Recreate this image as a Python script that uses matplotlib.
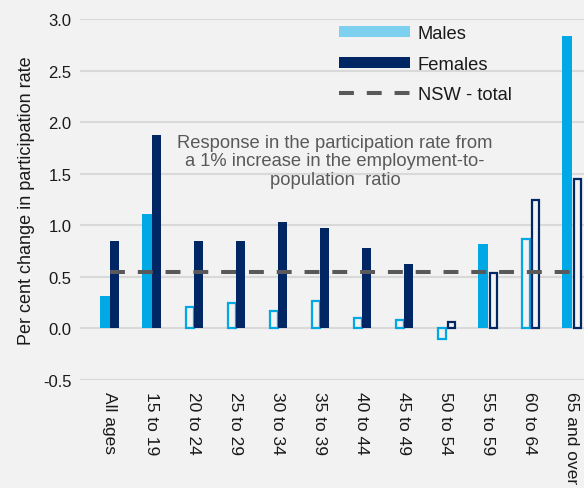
import matplotlib
matplotlib.use("Agg")
import matplotlib.pyplot as plt
import numpy as np
from matplotlib.patches import Patch
from matplotlib.lines import Line2D

plt.rcParams['font.family'] = ['Liberation Sans', 'DejaVu Sans']

categories = ["All ages", "15 to 19", "20 to 24", "25 to 29", "30 to 34", "35 to 39",
              "40 to 44", "45 to 49", "50 to 54", "55 to 59", "60 to 64", "65 and over"]
males = [0.31, 1.11, 0.21, 0.25, 0.17, 0.27, 0.10, 0.08, -0.10, 0.82, 0.87, 2.84]
females = [0.85, 1.88, 0.85, 0.85, 1.03, 0.97, 0.78, 0.62, 0.06, 0.54, 1.25, 1.45]
# significance: True = filled bar, False = hollow bar
males_sig = [True, True, False, False, False, False, False, False, False, True, False, True]
females_sig = [True, True, True, True, True, True, True, True, False, False, False, False]
nsw_total = 0.55

male_color = "#00a9e6"
female_color = "#002664"
bg = "#f2f2f2"
dash = (0, (3.7, 3.2))

fig = plt.figure(figsize=(5.84, 4.89), dpi=100, facecolor=bg)
ax = fig.add_axes([80/584, 108/489, 1 - 80/584, (381-20)/489])
ax.set_facecolor(bg)

x = np.arange(len(categories))
w = 0.225
for i in range(len(categories)):
    if males_sig[i]:
        ax.bar(x[i] - w/2, males[i], w, color=male_color, zorder=3)
    else:
        ax.bar(x[i] - w/2 + 0.02, males[i], w - 0.05, facecolor=bg, edgecolor=male_color,
               linewidth=1.6, zorder=3)
    if females_sig[i]:
        ax.bar(x[i] + w/2, females[i], w, color=female_color, zorder=3)
    else:
        ax.bar(x[i] + w/2 + 0.02, females[i], w - 0.05, facecolor=bg, edgecolor=female_color,
               linewidth=1.6, zorder=3)

ax.plot(x, [nsw_total]*len(x), color="#595959", lw=2.9, linestyle=dash,
        zorder=4, solid_capstyle='butt')

ax.set_ylim(-0.5, 3.0)
ax.set_xlim(-0.71, 11.29)
ax.set_yticks(np.arange(-0.5, 3.01, 0.5))
ax.set_yticklabels([f"{v:.1f}" for v in np.arange(-0.5, 3.01, 0.5)], fontsize=12, color="#1a1a1a")
ax.set_xticks(x)
ax.set_xticklabels(categories, rotation=270, fontsize=12.5, va='top', ha='center', color="#1a1a1a")
ax.tick_params(length=0, pad=6)
ax.tick_params(axis='x', pad=8)
ax.grid(axis='y', color="#d9d9d9", lw=1.5, zorder=0)
for s in ax.spines.values():
    s.set_visible(False)
ax.set_ylabel("Per cent change in participation rate", fontsize=13, labelpad=6, color="#1a1a1a")

ax.text(335/584, 1 - 162/489,
        "Response in the participation rate from\na 1% increase in the employment-to-\npopulation  ratio",
        transform=fig.transFigure, ha='center', va='center', fontsize=13.2, color="#595959",
        linespacing=1.08, zorder=5)

handles = [Patch(facecolor="#7dd0ee", edgecolor='none'),
           Patch(facecolor=female_color, edgecolor='none'),
           Line2D([0], [0], color="#595959", lw=2.9, linestyle=dash)]
leg = ax.legend(handles, ["Males", "Females", "NSW - total"], loc='upper left',
                bbox_to_anchor=(332/584, 1 - 19/489), bbox_transform=fig.transFigure,
                frameon=False, fontsize=13.2, handlelength=3.85, handleheight=0.55,
                labelspacing=0.72, handletextpad=0.42, borderaxespad=0)
for t in leg.get_texts():
    t.set_color("#1a1a1a")

fig.savefig("out.png", dpi=100, facecolor=bg)
